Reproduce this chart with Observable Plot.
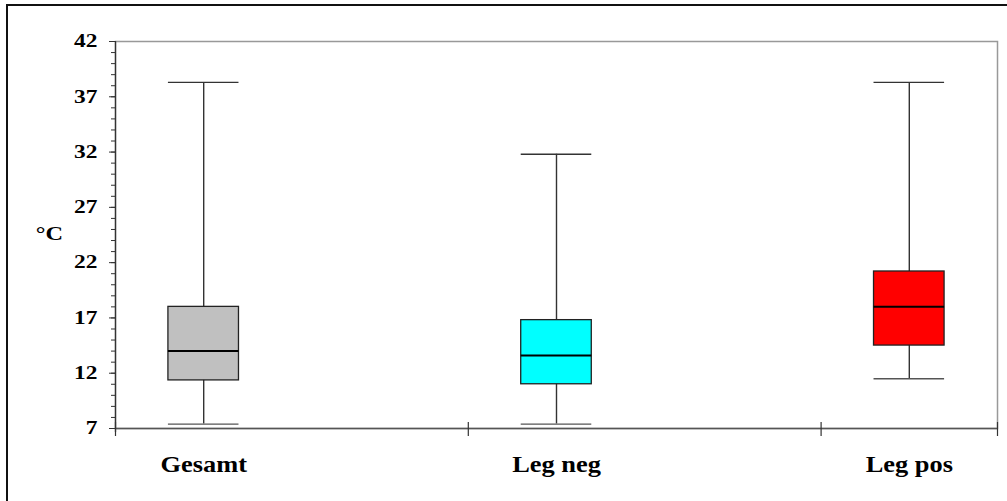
<!DOCTYPE html>
<html>
<head>
<meta charset="utf-8">
<script src="https://cdn.jsdelivr.net/npm/d3@7"></script>
<script src="https://cdn.jsdelivr.net/npm/@observablehq/plot@0.6"></script>
<style>
  html, body { margin: 0; padding: 0; background: #fff; }
  #chart { position: relative; width: 1007px; height: 501px; overflow: hidden; }
  #chart svg { display: block; }
  #chart .sheet {
    position: absolute; left: 6px; top: 4px; right: -10px; bottom: -10px;
    border-left: 2px solid #111; border-top: 2px solid #111; pointer-events: none;
  }
</style>
</head>
<body>
<div id="chart"><div class="sheet"></div></div>
<script>
// Temperature distribution per group (°C): whisker ends, quartiles and median
const groups = ["Gesamt", "Leg neg", "Leg pos"];
const whiskerLow = [7.4, 7.4, 11.5];
const quartile1 = [11.35, 11.0, 14.5];
const medians = [14.0, 13.6, 18.0];
const quartile3 = [18.0, 16.8, 21.2];
const whiskerHigh = [38.3, 31.8, 38.3];
const boxFills = ["#c0c0c0", "#00ffff", "#ff0000"];

// Axis ticks
const yTicks = [7, 12, 17, 22, 27, 32, 37, 42];
const yMinorTicks = d3.range(7, 43, 1);
const unitLabel = "°C";

const yDomain = [7, 42];
const xDomain = [-0.25, 2.25];           // category slots 0,1,2
const xBreaks = [-0.25, 0.75, 1.75, 2.25]; // category separators
const half = 0.1;                         // half box width in slot units

const rows = groups.map((g, i) => ({
  group: g, i,
  lo: whiskerLow[i], q1: quartile1[i], med: medians[i],
  q3: quartile3[i], hi: whiskerHigh[i], fill: boxFills[i]
}));

const serif = "'Liberation Serif', 'Times New Roman', serif";

const chart = Plot.plot({
  width: 1007,
  height: 501,
  marginLeft: 115,
  marginRight: 10,
  marginTop: 41,
  marginBottom: 73,
  style: { fontFamily: serif, color: "#000", background: "#fff" },
  x: { type: "linear", domain: xDomain },
  y: { domain: yDomain },
  color: { type: "identity" },
  marks: [
    Plot.frame({ stroke: "#999", strokeWidth: 1.5 }),
    // minor y ticks
    Plot.axisY({ ticks: yMinorTicks, tickSize: 4, tickFormat: () => "", label: null, stroke: "#333" }),
    // major y ticks with labels
    Plot.axisY({
      ticks: yTicks, tickSize: 6, tickPadding: 12, label: null, stroke: "#333",
      fontSize: 18, fontWeight: "bold", fontFamily: serif
    }),
    // category labels
    Plot.axisX({
      ticks: [0, 1, 2], tickFormat: (i) => groups[i], tickSize: 0, tickPadding: 26, label: null,
      fontSize: 24, fontWeight: "bold", fontFamily: serif
    }),
    // axis lines
    Plot.ruleY([yDomain[0]], { stroke: "#555", strokeWidth: 1.6 }),
    Plot.ruleX([xDomain[0]], { stroke: "#333", strokeWidth: 1.3, insetBottom: -4 }),
    // category separator ticks across the x axis line
    Plot.ruleX(xBreaks, { x: (d) => d, y1: yDomain[0], y2: yDomain[0], insetTop: -6, insetBottom: -8, stroke: "#333", strokeWidth: 1.2 }),
    // whiskers and caps
    Plot.ruleX(rows, { x: "i", y1: "lo", y2: "hi", stroke: "#333", strokeWidth: 1.4 }),
    Plot.ruleY(rows, { y: "hi", x1: (d) => d.i - half, x2: (d) => d.i + half, stroke: "#333", strokeWidth: 1.4 }),
    Plot.ruleY(rows, { y: "lo", x1: (d) => d.i - half, x2: (d) => d.i + half, stroke: "#555", strokeWidth: 1.4 }),
    // boxes
    Plot.rect(rows, {
      x1: (d) => d.i - half, x2: (d) => d.i + half, y1: "q1", y2: "q3",
      fill: "fill", stroke: "#222", strokeWidth: 1.3
    }),
    // medians
    Plot.ruleY(rows, { y: "med", x1: (d) => d.i - half, x2: (d) => d.i + half, stroke: "#000", strokeWidth: 2 }),
    // unit label
    Plot.text([unitLabel], {
      text: (d) => d, frameAnchor: "left", textAnchor: "middle", dx: -66, dy: -1,
      fontSize: 18, fontWeight: "bold", fontFamily: serif, fill: "#000"
    })
  ]
});

document.getElementById("chart").prepend(chart);

// Widen the bold serif labels a little, as in the printed chart
function widen(selector, factor) {
  chart.querySelectorAll(selector).forEach((t) => {
    const w = t.getComputedTextLength();
    if (w > 0) {
      t.setAttribute("textLength", (w * factor).toFixed(1));
      t.setAttribute("lengthAdjust", "spacingAndGlyphs");
    }
  });
}
widen('g[aria-label="y-axis tick label"] text', 1.3);
widen('g[aria-label="x-axis tick label"] text', 1.1);
widen('g[aria-label="text"] text', 1.35);
</script>
</body>
</html>
